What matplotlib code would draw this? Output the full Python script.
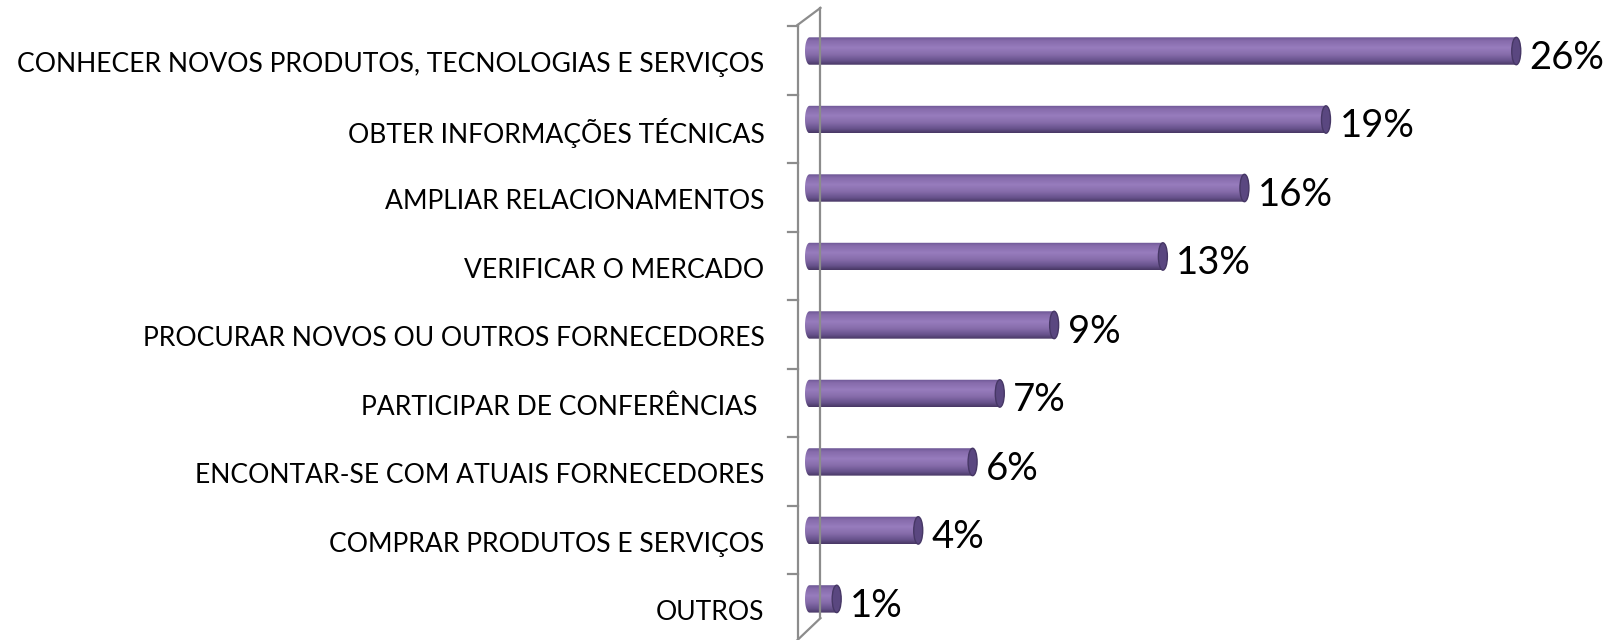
import numpy as np
import matplotlib
matplotlib.use("Agg")
import matplotlib.pyplot as plt
from matplotlib.colors import LinearSegmentedColormap
from matplotlib.patches import Ellipse, PathPatch
from matplotlib.path import Path

# --- dados ---
categorias = [
    "CONHECER NOVOS PRODUTOS, TECNOLOGIAS E SERVIÇOS",
    "OBTER INFORMAÇÕES TÉCNICAS",
    "AMPLIAR RELACIONAMENTOS",
    "VERIFICAR O MERCADO",
    "PROCURAR NOVOS OU OUTROS FORNECEDORES",
    "PARTICIPAR DE CONFERÊNCIAS ",
    "ENCONTAR-SE COM ATUAIS FORNECEDORES",
    "COMPRAR PRODUTOS E SERVIÇOS",
    "OUTROS",
]
valores = [26, 19, 16, 13, 9, 7, 6, 4, 1]
rotulos = ["26%", "19%", "16%", "13%", "9%", "7%", "6%", "4%", "1%"]

plt.rcParams['font.family'] = ['Lato', 'DejaVu Sans']

fig = plt.figure(figsize=(16.08, 6.40), dpi=100)
fig.patch.set_facecolor('white')
px = 27.2  # pixels por unidade
ax = fig.add_axes([805 / 1608, 0, (1608 - 805) / 1608, 1])
ax.set_axis_off()

y = np.arange(len(valores))
h = 0.40
r = 4.5 / px  # raio da tampa do cilindro

# gradiente do cilindro
cmap = LinearSegmentedColormap.from_list("cil", [
    (0.0, "#6b5593"), (0.12, "#866bab"), (0.38, "#977cbd"),
    (0.62, "#876dab"), (0.85, "#67528c"), (1.0, "#483864")])
grad = np.linspace(0, 1, 64).reshape(-1, 1)

barras = ax.barh(y, valores, height=h, color="none", edgecolor="none")
for b, v, yi, rot in zip(barras, valores, y, rotulos):
    # contorno: meia elipse à esquerda + retângulo
    t = np.linspace(np.pi / 2, 3 * np.pi / 2, 30)
    xs = list(r * np.cos(t)) + [v, v]
    ys = list(yi - (h / 2) * np.sin(t)) + [yi + h / 2, yi - h / 2]
    verts = list(zip(xs, ys)) + [(xs[0], ys[0])]
    forma = PathPatch(Path(verts, closed=True), facecolor="none", edgecolor="none")
    ax.add_patch(forma)
    im = ax.imshow(grad, cmap=cmap, aspect="auto", origin="upper",
                   extent=(-r, v, yi + h / 2, yi - h / 2), interpolation="bilinear")
    im.set_clip_path(forma)
    # tampa direita
    ax.add_patch(Ellipse((v, yi), 2 * r, h, facecolor="#5a4780",
                         edgecolor="#463765", lw=1.0, zorder=3))
    ax.text(v + r + 9 / px, yi + 0.1, rot,
            fontsize=27.5, va="center", ha="left", color="black")

# rótulos das categorias
for yi, c in zip(y, categorias):
    ax.text(-45 / px, yi + 0.2, c, fontsize=19.1, va="center", ha="right", color="black")

# parede 3D do eixo
cor = "#8c8c8c"
xf, xb = -12 / px, 11 / px
ax.plot([xf, xf], [-0.38, 8.7], color=cor, lw=1.6, clip_on=False, zorder=0)
ax.plot([xb, xb], [-0.63, 8.28], color=cor, lw=1.6, clip_on=False, zorder=0)
ax.plot([xf, xb], [-0.38, -0.63], color=cor, lw=1.6, clip_on=False, zorder=0)
ax.plot([xb, xf], [8.28, 8.6], color=cor, lw=1.6, clip_on=False, zorder=0)
for i in range(len(valores)):
    ax.plot([-22 / px, xf], [i - 0.36, i - 0.36], color=cor, lw=1.6, clip_on=False, zorder=0)

ax.set_xlim(-r, (1608 - 809) / px)
ax.set_ylim(8.6, -0.745)

fig.savefig("out.png", dpi=100, facecolor="white")
